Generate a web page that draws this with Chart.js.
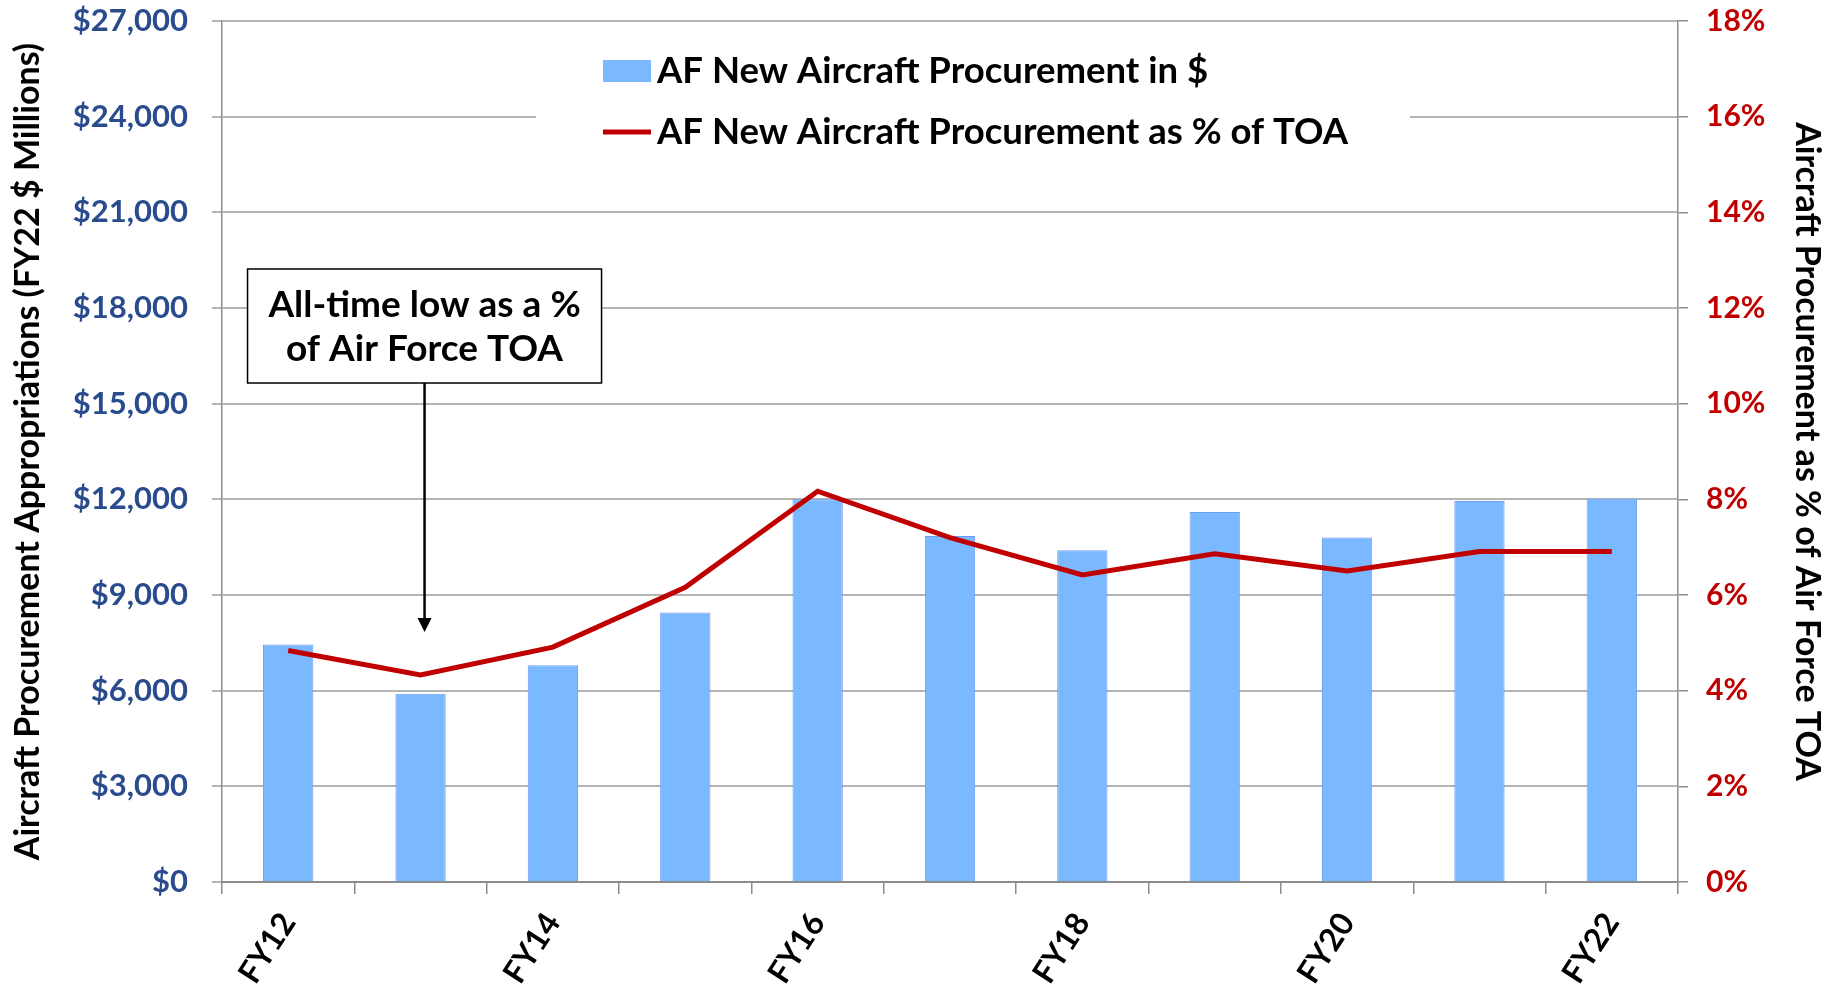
<!DOCTYPE html>
<html>
<head>
<meta charset="utf-8">
<title>AF New Aircraft Procurement</title>
<style>
  html, body { margin: 0; padding: 0; background: #ffffff; }
  #wrap { width: 1835px; height: 996px; }
</style>
</head>
<body>
<div id="wrap"><canvas id="chart" width="1835" height="996"></canvas></div>
<script src="https://cdn.jsdelivr.net/npm/chart.js@4.4.0/dist/chart.umd.min.js"></script>
<script>
// data
var years = ["FY12", "FY13", "FY14", "FY15", "FY16", "FY17", "FY18", "FY19", "FY20", "FY21", "FY22"];
var procurementDollars = [7450, 5900, 6800, 8450, 12000, 10850, 10400, 11600, 10800, 11950, 12030];
var procurementPct = [4.84, 4.33, 4.91, 6.16, 8.17, 7.2, 6.42, 6.86, 6.5, 6.91, 6.91];
var dollarMax = 27000, dollarStep = 3000;
var pctMax = 18, pctStep = 2;
var noteLines = ["All-time low as a %", "of Air Force TOA"];
var noteYear = "FY13";

var barColor = "#7ab8ff";
var lineColor = "#c00000";
var gridColor = "#b4b4b4";
var axisColor = "#8c8c8c";

Chart.defaults.font.family = "Lato";
Chart.defaults.font.weight = "bold";
Chart.defaults.color = "#000";

// legend drawn inside the plot, on a white box that hides the gridlines
var legendBox = {
  id: "legendBox",
  beforeDatasetsDraw: function(chart) {
    var ctx = chart.ctx, a = chart.chartArea;
    var x0 = a.left + 381, y0 = a.top + 39;
    ctx.save();
    ctx.fillStyle = "#fff";
    ctx.fillRect(a.left + 314, a.top + 24, 874, 150);
    ctx.font = "bold 36.5px Lato";
    ctx.textBaseline = "middle";
    var ds = chart.data.datasets;
    // bar item
    ctx.fillStyle = ds[0].backgroundColor;
    ctx.fillRect(x0, y0, 48, 22);
    ctx.fillStyle = "#000";
    ctx.fillText(ds[0].label, x0 + 54, y0 + 11);
    // line item
    ctx.strokeStyle = ds[1].borderColor;
    ctx.lineWidth = 5;
    ctx.beginPath();
    ctx.moveTo(x0, y0 + 72);
    ctx.lineTo(x0 + 48, y0 + 72);
    ctx.stroke();
    ctx.fillText(ds[1].label, x0 + 54, y0 + 72);
    ctx.restore();
  }
};

// callout box with arrow pointing at the low year
var callout = {
  id: "callout",
  afterDatasetsDraw: function(chart) {
    var ctx = chart.ctx, a = chart.chartArea;
    var idx = years.indexOf(noteYear);
    var ax = chart.scales.x.getPixelForValue(idx) + 4;
    var tipY = chart.scales.y1.getPixelForValue(procurementPct[idx]) - 43;
    var bw = 354, bh = 114;
    var bx = ax - bw / 2, by = a.top + 248;
    ctx.save();
    ctx.fillStyle = "#fff";
    ctx.fillRect(bx, by, bw, bh);
    ctx.strokeStyle = "#000";
    ctx.lineWidth = 1.5;
    ctx.strokeRect(bx, by, bw, bh);
    ctx.font = "bold 37px Lato";
    ctx.textAlign = "center";
    ctx.textBaseline = "middle";
    ctx.fillStyle = "#000";
    ctx.fillText(noteLines[0], ax, by + 36);
    ctx.fillText(noteLines[1], ax, by + 80);
    // arrow
    ctx.lineWidth = 2.5;
    ctx.beginPath();
    ctx.moveTo(ax, by + bh);
    ctx.lineTo(ax, tipY - 12);
    ctx.stroke();
    ctx.beginPath();
    ctx.moveTo(ax - 7, tipY - 14);
    ctx.lineTo(ax + 7, tipY - 14);
    ctx.lineTo(ax, tipY);
    ctx.closePath();
    ctx.fill();
    ctx.restore();
  }
};

function fixVertical(width) {
  return function(s) {
    s.width = width;
    s.paddingTop = 21;
    s.paddingBottom = 0;
  };
}

var ctx = document.getElementById("chart");
var chart = new Chart(ctx, {
  type: "bar",
  data: {
    labels: years,
    datasets: [
      {
        type: "bar",
        label: "AF New Aircraft Procurement in $",
        data: procurementDollars,
        backgroundColor: barColor,
        borderColor: "#6d9df2",
        borderWidth: 1,
        barPercentage: 0.38,
        categoryPercentage: 1,
        yAxisID: "y",
        order: 2
      },
      {
        type: "line",
        label: "AF New Aircraft Procurement as % of TOA",
        data: procurementPct,
        borderColor: lineColor,
        backgroundColor: lineColor,
        borderWidth: 5,
        pointRadius: 0,
        tension: 0,
        yAxisID: "y1",
        order: 1
      }
    ]
  },
  options: {
    responsive: false,
    animation: false,
    layout: { padding: { top: 0, left: 0, right: 0, bottom: 0 } },
    plugins: {
      legend: { display: false },
      tooltip: { enabled: false }
    },
    scales: {
      x: {
        afterFit: function(s) { s.height = 114; },
        grid: { drawOnChartArea: false, drawTicks: true, tickLength: 12, offset: true, color: axisColor, lineWidth: 1.5 },
        border: { color: axisColor, width: 2 },
        ticks: {
          autoSkip: false,
          minRotation: 57,
          maxRotation: 57,
          padding: 12,
          font: { size: 32, weight: "bold" },
          color: "#000",
          callback: function(v, i) { return i % 2 === 0 ? this.getLabelForValue(v) : ""; }
        }
      },
      y: {
        position: "left",
        min: 0,
        max: dollarMax,
        afterFit: fixVertical(222),
        grid: { color: gridColor, lineWidth: 2, tickLength: 10 },
        border: { color: axisColor, width: 1.5 },
        ticks: {
          stepSize: dollarStep,
          padding: 24,
          color: "#2a4b8d",
          font: { size: 31, weight: "bold" },
          callback: function(v) { return "$" + v.toLocaleString("en-US"); }
        },
        title: {
          display: true,
          text: "Aircraft Procurement Appropriations (FY22 $ Millions)",
          color: "#000",
          font: { size: 34, weight: "bold" },
          padding: { top: 8, bottom: 0 }
        }
      },
      y1: {
        position: "right",
        min: 0,
        max: pctMax,
        afterFit: fixVertical(157),
        grid: { drawOnChartArea: false, color: axisColor, lineWidth: 1.5, tickLength: 10 },
        border: { color: axisColor, width: 1.5 },
        ticks: {
          stepSize: pctStep,
          padding: 18,
          color: lineColor,
          font: { size: 30, weight: "bold" },
          callback: function(v) { return v + "%"; }
        },
        title: {
          display: true,
          text: "Aircraft Procurement as % of Air Force TOA",
          color: "#000",
          font: { size: 34, weight: "bold" },
          padding: { top: 8, bottom: 0 }
        }
      }
    }
  },
  plugins: [legendBox, callout]
});
</script>
</body>
</html>
